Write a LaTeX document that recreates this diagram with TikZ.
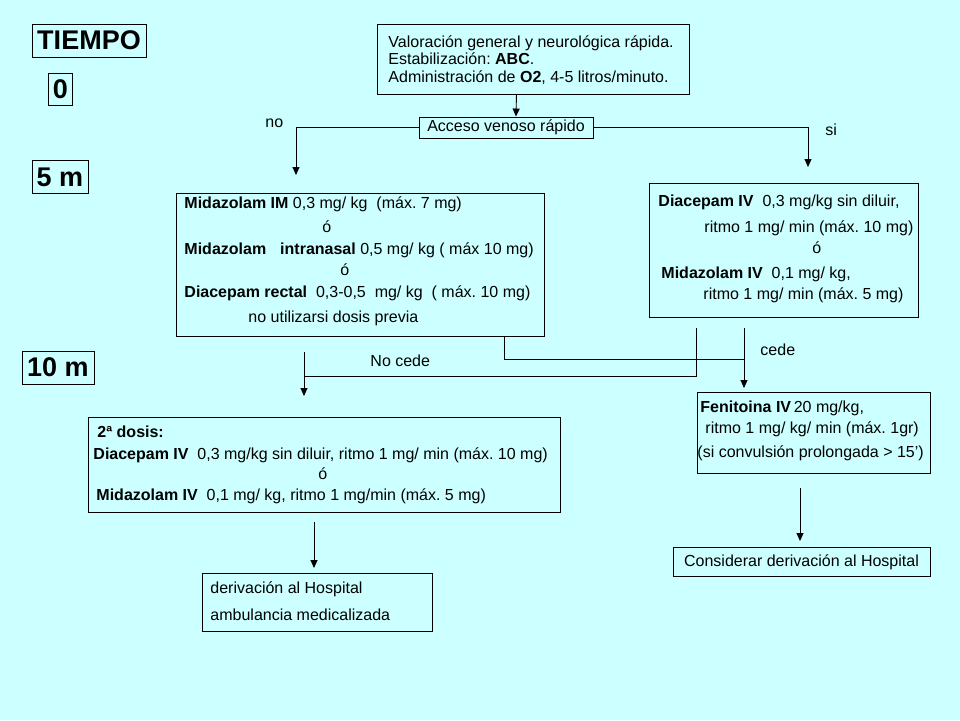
\documentclass[tikz,border=0pt]{standalone}
\usepackage{fontspec}
\setmainfont{Liberation Sans}
\usetikzlibrary{arrows.meta}
\definecolor{fondo}{HTML}{CCFFFF}
\frenchspacing

\begin{document}
\begin{tikzpicture}[x=1pt, y=-1pt, line width=0.9pt, >={Triangle[length=8pt,width=7pt]},
  caja/.style={draw, anchor=north west, inner sep=0pt},
  tiempo/.style={draw, inner sep=0pt, font=\fontsize{27}{30}\selectfont\bfseries},
  linea/.style={anchor=base west, inner sep=0pt, font=\fontsize{16}{18}\selectfont}]
  \fill[fondo] (0,0) rectangle (960,720);
  \useasboundingbox (0,0) rectangle (960,720);

  \node[tiempo, minimum width=114pt, minimum height=33pt] (tiempo) at (89,40.5)  {TIEMPO};
  \node[tiempo, minimum width=24pt,  minimum height=32pt] (t0)     at (60.5,89)  {0};
  \node[tiempo, minimum width=56pt,  minimum height=33pt] (t5)     at (60,177)   {5 m};
  \node[tiempo, minimum width=72pt,  minimum height=33pt] (t10)    at (58,367.5) {10 m};

  \node[caja, minimum width=312pt, minimum height=70pt]  (valora) at (377,24)  {};
  \node[linea] (valora1) at (388,47)   {Valoración general y neurológica rápida.};
  \node[linea] (valora2) at (388,64.5) {Estabilización: \textbf{ABC}.};
  \node[linea] (valora3) at (388,82)   {Administración de \textbf{O2}, 4-5 litros/minuto.};

  \node[draw, inner sep=0pt, minimum width=174pt, minimum height=21pt,
        font=\fontsize{16}{18}\selectfont] (acceso) at (506,127.5) {Acceso venoso rápido};

  \node[caja, minimum width=368pt, minimum height=143pt] (midaz) at (176,193) {};
  \node[linea] (midaz1) at (184,208) {\textbf{Midazolam IM} 0,3 mg/ kg \ (máx. 7 mg)};
  \node[linea] (midaz2) at (322,232) {ó};
  \node[linea] (midaz3) at (184,254) {\textbf{Midazolam}\hspace{14pt}\textbf{intranasal} 0,5 mg/ kg ( máx 10 mg)};
  \node[linea] (midaz4) at (340,275) {ó};
  \node[linea] (midaz5) at (184,297) {\textbf{Diacepam rectal} \ 0,3-0,5 \ mg/ kg \ ( máx. 10 mg)};
  \node[linea] (midaz6) at (248,322) {no utilizarsi dosis previa};

  \node[caja, minimum width=269pt, minimum height=134pt] (diacep) at (649,183) {};
  \node[linea] (diacep1) at (658,206) {\textbf{Diacepam IV} \ 0,3 mg/kg sin diluir,};
  \node[linea] (diacep2) at (704,232) {ritmo 1 mg/ min (máx. 10 mg)};
  \node[linea] (diacep3) at (812,253) {ó};
  \node[linea] (diacep4) at (661,278) {\textbf{Midazolam IV} \ 0,1 mg/ kg,};
  \node[linea] (diacep5) at (703,299) {ritmo 1 mg/ min (máx. 5 mg)};

  \node[caja, minimum width=233pt, minimum height=81pt]  (fenit) at (697,392) {};
  \node[linea] (fenit1) at (700,412) {\textbf{Fenitoina IV}\,20 mg/kg,};
  \node[linea] (fenit2) at (705,433) {ritmo 1 mg/ kg/ min (máx. 1gr)};
  \node[linea] (fenit3) at (697,457) {(si convulsión prolongada > 15’)};

  \node[draw, inner sep=0pt, minimum width=257pt, minimum height=29pt,
        font=\fontsize{16}{18}\selectfont] (consid) at (801.5,562) {Considerar derivación al Hospital};

  \node[caja, minimum width=472pt, minimum height=95pt]  (dosis) at (88,417) {};
  \node[linea] (dosis1) at (97,437) {\textbf{2ª dosis:}};
  \node[linea] (dosis2) at (93,459) {\textbf{Diacepam IV} \ 0,3 mg/kg sin diluir, ritmo 1 mg/ min (máx. 10 mg)};
  \node[linea] (dosis3) at (318,479) {ó};
  \node[linea] (dosis4) at (96,500) {\textbf{Midazolam IV} \ 0,1 mg/ kg, ritmo 1 mg/min (máx. 5 mg)};

  \node[caja, minimum width=230pt, minimum height=58pt]  (deriv) at (202,573) {};
  \node[linea] (deriv1) at (210,593) {derivación al Hospital};
  \node[linea] (deriv2) at (210,620) {ambulancia medicalizada};

  \node[linea] (no)     at (265,127)   {no};
  \node[linea] (si)     at (825,135)   {si};
  \node[linea] (nocede) at (370,366)   {No cede};
  \node[linea] (cede)   at (760,355)   {cede};

  \coordinate (noend) at (296,175);
  \coordinate (siend) at (808,167);
  \coordinate (ncA)   at (696,328);
  \coordinate (ncB)   at (304,352);
  \coordinate (ncC)   at (304,376);
  \coordinate (ncend) at (304,396);
  \coordinate (cA)    at (744,328);
  \coordinate (cend)  at (744,388);
  \coordinate (fA)    at (800,488);
  \coordinate (fB)    at (800,541);
  \coordinate (dA)    at (314,522);
  \coordinate (dB)    at (314,568);

  \draw[->] ([xshift=-17pt]valora.south) -- ([xshift=10pt]acceso.north);
  \draw[->] (acceso.west) -| (noend);
  \draw[->] (acceso.east) -| (siend);
  \draw     ([xshift=-40pt]midaz.south east) -- ++(0,23) -| (cA);
  \draw[->] (cA) -- (cend);
  \draw     (ncA) |- (ncC);
  \draw[->] (ncB) -- (ncend);
  \draw[->] (fA) -- (fB);
  \draw[->] (dA) -- (dB);
\end{tikzpicture}
\end{document}
